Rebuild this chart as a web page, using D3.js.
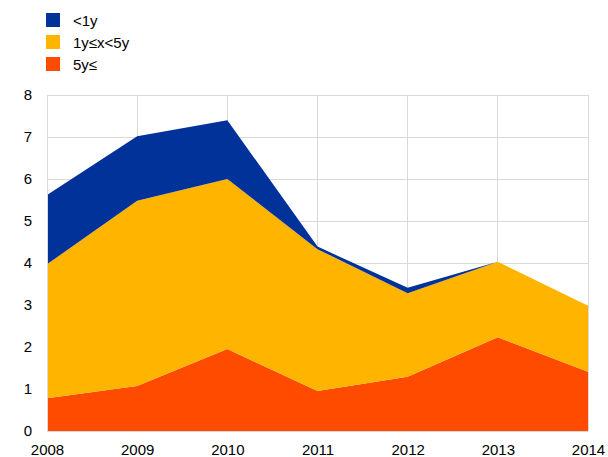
<!DOCTYPE html>
<html><head><meta charset="utf-8">
<script src="https://cdn.jsdelivr.net/npm/d3@7"></script>
<style>body{margin:0;background:#fff}svg{display:block;font-family:"Liberation Sans",Arial,sans-serif}</style>
</head><body><svg id="c" width="608" height="457"></svg>
<script>
const years = [2008, 2009, 2010, 2011, 2012, 2013, 2014];
const seriesNames = ["5y≤", "1y≤x<5y", "<1y"];
const over5y = [0.78, 1.07, 1.95, 0.95, 1.29, 2.23, 1.41];
const oneToFive = [3.19, 4.41, 4.05, 3.38, 1.99, 1.80, 1.57];
const under1y = [1.65, 1.54, 1.40, 0.06, 0.13, 0.00, 0.00];
const colors = ["#FF4B00", "#FFB400", "#003299"];
const yTicks = [0, 1, 2, 3, 4, 5, 6, 7, 8];
const legendOrder = ["<1y", "1y≤x<5y", "5y≤"];

const svg = d3.select("#c");
const m = {l: 47, r: 20, t: 95, b: 26};
const W = 608, H = 457;
const x = d3.scaleLinear().domain([2008, 2014]).range([m.l, W - m.r]);
const y = d3.scaleLinear().domain([0, 8]).range([H - m.b, m.t]);

const rows = years.map((yr, i) => ({year: yr, "5y≤": over5y[i], "1y≤x<5y": oneToFive[i], "<1y": under1y[i]}));
const stack = d3.stack().keys(seriesNames)(rows);

// grid
svg.append("g").selectAll("line").data(yTicks).join("line")
  .attr("x1", m.l).attr("x2", W - m.r).attr("y1", d => y(d)).attr("y2", d => y(d))
  .attr("stroke", "#d9d9d9").attr("stroke-width", 1).attr("shape-rendering", "crispEdges");
svg.append("g").selectAll("line").data(years).join("line")
  .attr("x1", d => x(d)).attr("x2", d => x(d)).attr("y1", y(0)).attr("y2", y(8))
  .attr("stroke", "#d9d9d9").attr("stroke-width", 1).attr("shape-rendering", "crispEdges");

const area = d3.area().x(d => x(d.data.year)).y0(d => y(d[0])).y1(d => y(d[1]));
svg.append("g").selectAll("path").data(stack).join("path")
  .attr("d", area).attr("fill", (d, i) => colors[i]);

// axes
const xAxis = d3.axisBottom(x).tickValues(years).tickFormat(d3.format("d")).tickSize(0).tickPadding(13);
const gx = svg.append("g").attr("transform", `translate(0,${y(0)})`).call(xAxis);
gx.select(".domain").attr("stroke", "#d9d9d9");
gx.selectAll("text").attr("font-size", 15).attr("fill", "#000").attr("font-family", "Liberation Sans, Arial, sans-serif");

const yAxis = d3.axisLeft(y).tickValues(yTicks).tickSize(0).tickPadding(15);
const gy = svg.append("g").attr("transform", `translate(${m.l},0)`).call(yAxis);
gy.select(".domain").attr("stroke", "#d9d9d9");
gy.selectAll("text").attr("font-size", 15).attr("fill", "#000").attr("font-family", "Liberation Sans, Arial, sans-serif");

// legend
const lg = svg.append("g").attr("transform", "translate(46,13)");
const li = lg.selectAll("g").data(legendOrder).join("g").attr("transform", (d, i) => `translate(0,${i * 22})`);
li.append("rect").attr("width", 14).attr("height", 14).attr("fill", d => colors[seriesNames.indexOf(d)]);
li.append("text").attr("x", 27).attr("y", 12.5).attr("font-size", 15).attr("fill", "#000").text(d => d);
</script></body></html>
